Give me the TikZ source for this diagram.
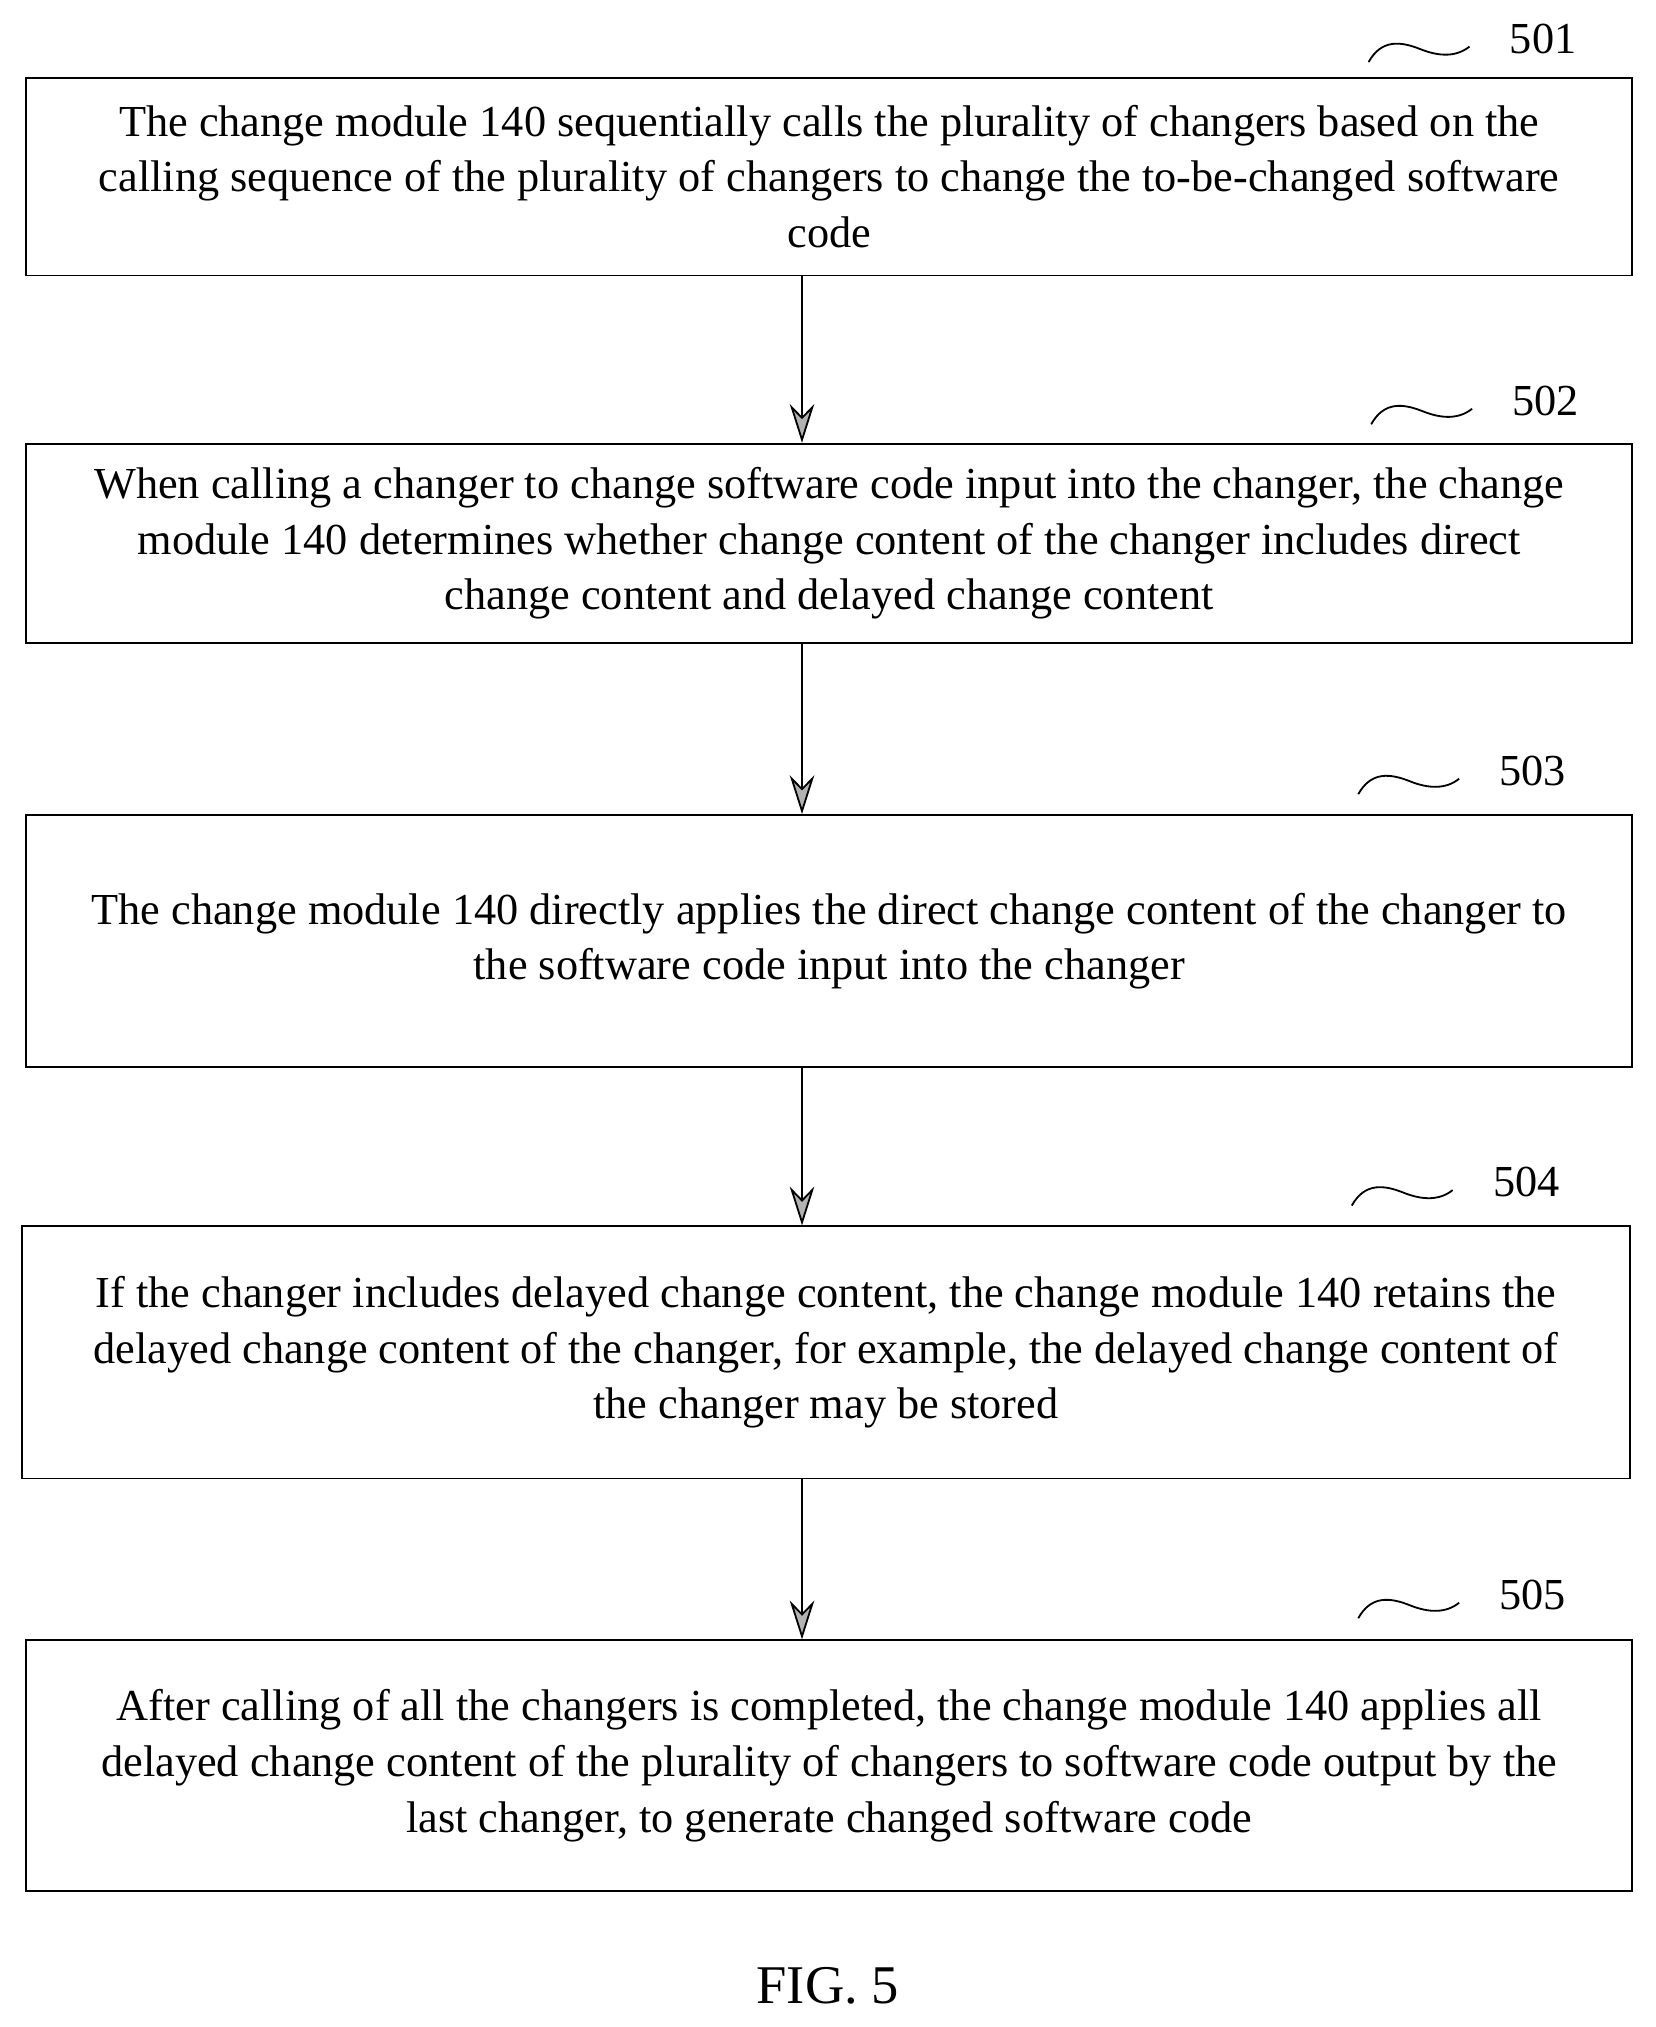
\documentclass[tikz,border=0pt]{standalone}
\usepackage{fontspec}
\setmainfont{Liberation Serif}
\usetikzlibrary{arrows.meta}
\tikzset{
stepbox/.style={draw,thick,align=center,inner sep=0pt,
  font=\fontsize{19.5}{24.5}\selectfont},
flow/.style={thick,-{Stealth[length=0.6cm,width=0.38cm,fill=gray!60]}},
tag/.style={font=\fontsize{19.5}{24}\selectfont}
}
\begin{document}
\begin{tikzpicture}[x=0.02cm,y=-0.02cm]
\useasboundingbox (0,0) rectangle (1280,1567);

\node[stepbox,minimum width=24.84cm,minimum height=3.06cm] (s1) at (641,136.5)
{The change module 140 sequentially calls the plurality of changers based on the\\ calling sequence of the plurality of changers to change the to-be-changed software\\ code};
\node[stepbox,minimum width=24.84cm,minimum height=3.08cm] (s2) at (641,420)
{When calling a changer to change software code input into the changer, the change\\ module 140 determines whether change content of the changer includes direct\\ change content and delayed change content};
\node[stepbox,minimum width=24.84cm,minimum height=3.9cm] (s3) at (641,727.5)
{The change module 140 directly applies the direct change content of the changer to\\ the software code input into the changer};
\node[stepbox,minimum width=24.86cm,minimum height=3.9cm] (s4) at (638.5,1045.5)
{If the changer includes delayed change content, the change module 140 retains the\\ delayed change content of the changer, for example, the delayed change content of\\ the changer may be stored};
\node[stepbox,minimum width=24.84cm,minimum height=3.88cm] (s5) at (641,1365)
{After calling of all the changers is completed, the change module 140 applies all\\ delayed change content of the plurality of changers to software code output by the\\ last changer, to generate changed software code};

\draw[flow] (s1.south -| 620,0) -- (s2.north -| 620,0);
\draw[flow] (s2.south -| 620,0) -- (s3.north -| 620,0);
\draw[flow] (s3.south -| 620,0) -- (s4.north -| 620,0);
\draw[flow] (s4.south -| 620,0) -- (s5.north -| 620,0);

% step numbers
\foreach \n/\x/\y in {501/1058/48, 502/1060/328, 503/1050/614, 504/1045/932, 505/1050/1251}{
  \draw[thick] (\x,\y) .. controls (\x+10,\y-18) and (\x+25,\y-16) .. (\x+40,\y-10)
    .. controls (\x+55,\y-4) and (\x+68,\y-4) .. (\x+78,\y-12);
  \node[tag] (t\n) at (\x+135,\y-18) {\n};
}

\node[font=\fontsize{24}{28}\selectfont] (fig) at (640,1535) {FIG. 5};
\end{tikzpicture}
\end{document}
